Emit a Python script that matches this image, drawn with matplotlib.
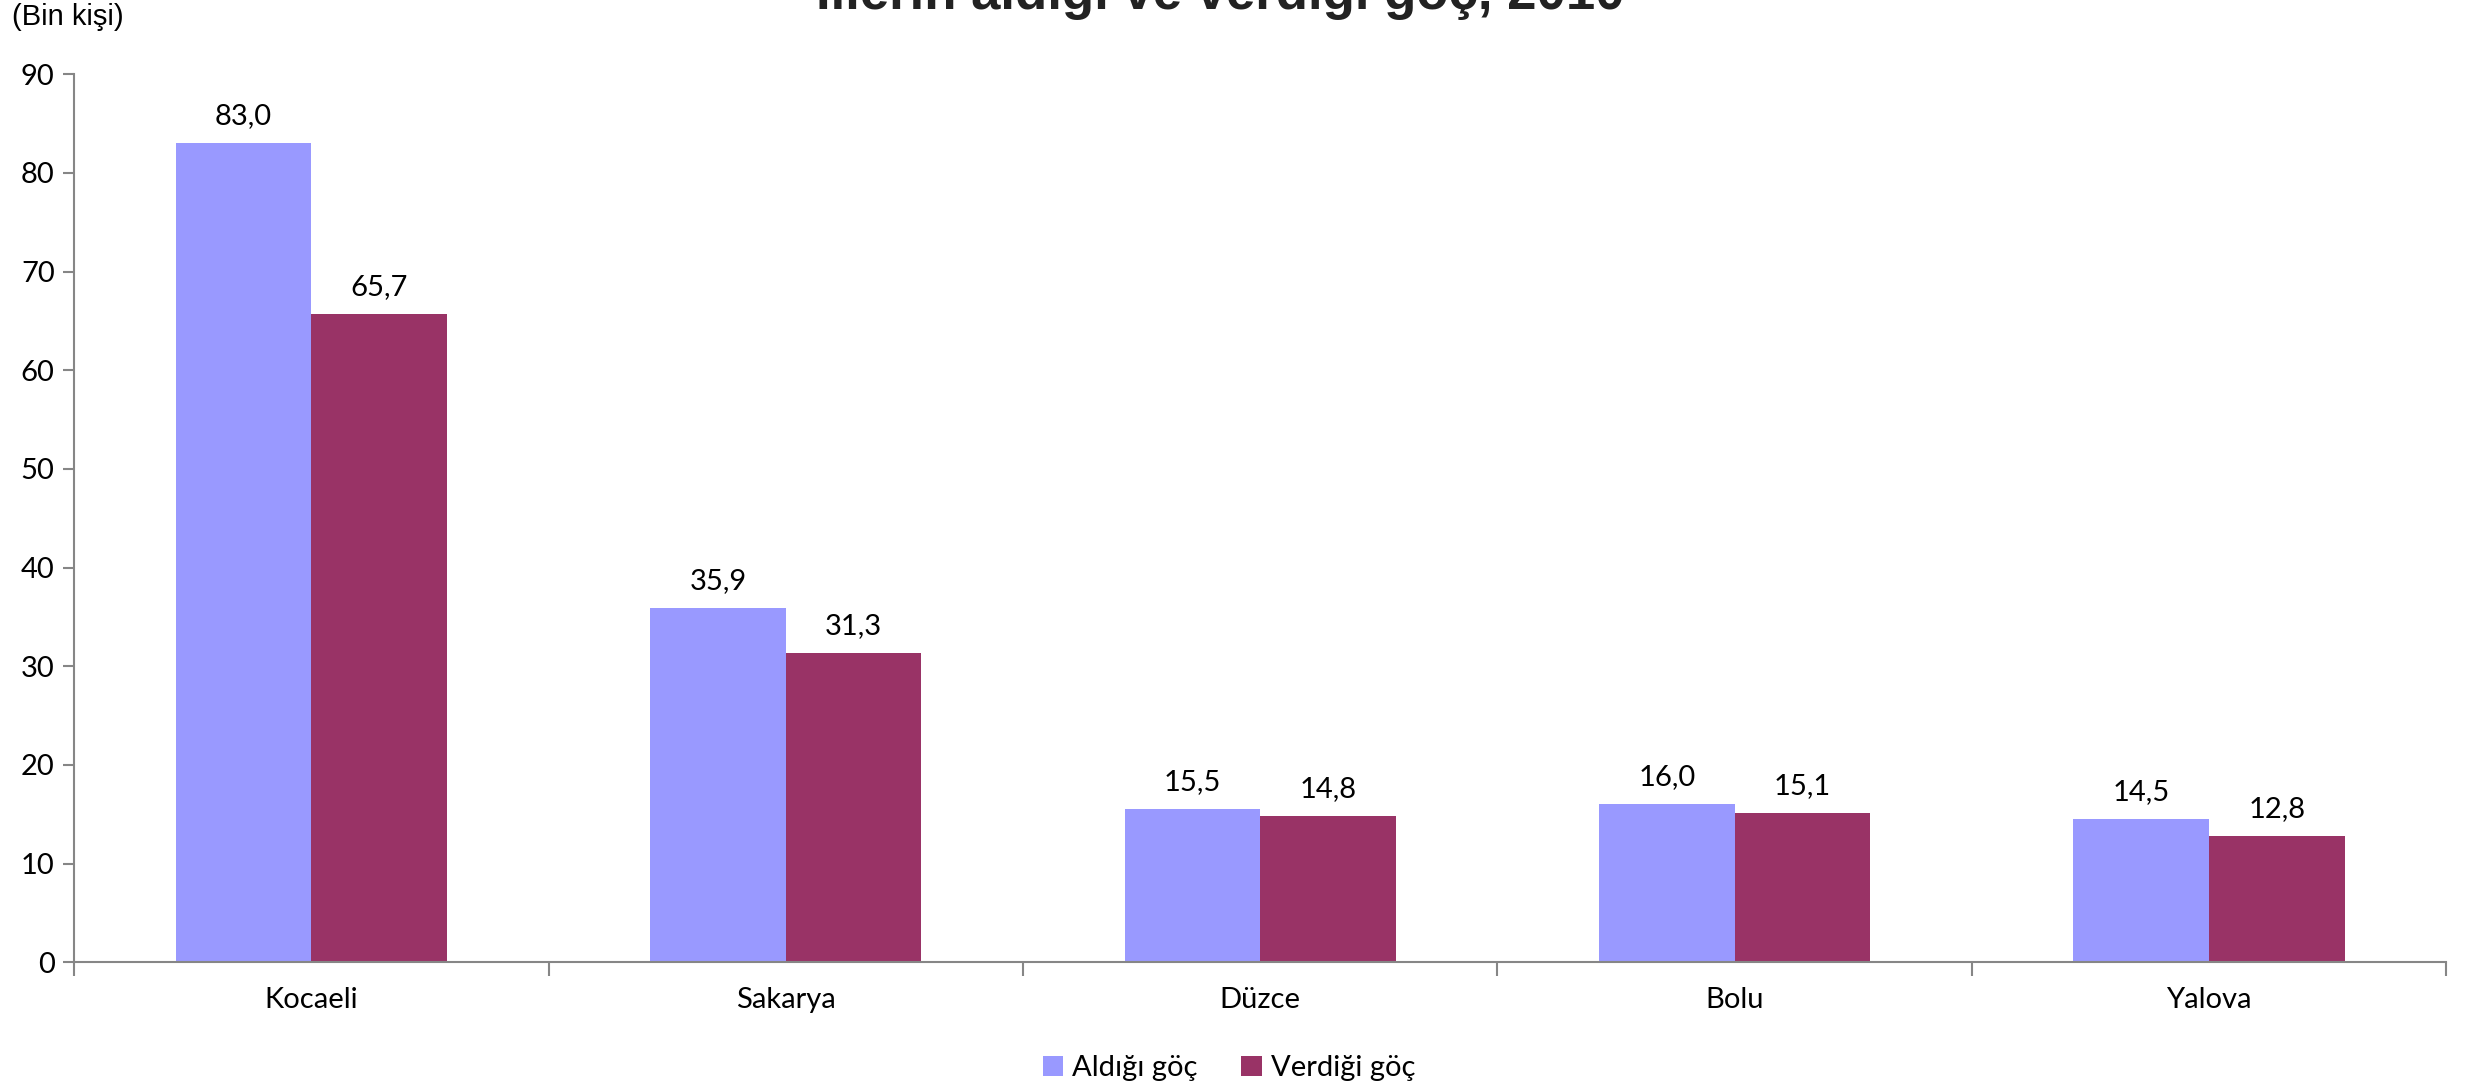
import numpy as np
import matplotlib
matplotlib.use('Agg')
import matplotlib.pyplot as plt

# veriler (bin kişi)
iller = ['Kocaeli', 'Sakarya', 'Düzce', 'Bolu', 'Yalova']
aldigi = [83.0, 35.9, 15.5, 16.0, 14.5]
verdigi = [65.7, 31.3, 14.8, 15.1, 12.8]
y_ticks = [0, 10, 20, 30, 40, 50, 60, 70, 80, 90]

mavi = '#9999FF'
mor = '#993366'
gri = '#868686'
yazi = ['Lato', 'DejaVu Sans']
fs = 21

fig = plt.figure(figsize=(24.71, 10.91), dpi=100)
ax = fig.add_axes([0.030, 0.118, 0.960, 0.814])

x = np.arange(len(iller))
w = 0.286
b1 = ax.bar(x - w / 2, aldigi, w, color=mavi, label='Aldığı göç')
b2 = ax.bar(x + w / 2, verdigi, w, color=mor, label='Verdiği göç')

for bars, vals in ((b1, aldigi), (b2, verdigi)):
    for r, v in zip(bars, vals):
        ax.annotate(f'{v:.1f}'.replace('.', ','), (r.get_x() + r.get_width() / 2, v),
                    xytext=(0, 14), textcoords='offset pixels', ha='center', va='bottom',
                    fontsize=fs, family=yazi)

ax.set_xlim(-0.5, len(iller) - 0.5)
ax.set_ylim(0, 90)
ax.set_yticks(y_ticks)
ax.set_yticklabels([str(t) for t in y_ticks], fontsize=fs, family=yazi)

# kategori sınırlarında tik, etiketler ortada
ax.set_xticks(np.arange(len(iller) + 1) - 0.5)
ax.set_xticklabels([])
ax.set_xticks(x, minor=True)
ax.set_xticklabels(iller, minor=True, fontsize=fs, family=yazi)
ax.tick_params(axis='x', which='major', length=10, width=1.5, color=gri, direction='out')
ax.tick_params(axis='x', which='minor', length=0, pad=18)
ax.tick_params(axis='y', length=8, width=1.5, color=gri, pad=6)

for s in ('top', 'right'):
    ax.spines[s].set_visible(False)
for s in ('left', 'bottom'):
    ax.spines[s].set_color(gri)
    ax.spines[s].set_linewidth(1.5)

fig.text(0.005, 1 - 17 / 1091, '(Bin kişi)', fontsize=fs, family=['Liberation Sans'],
         va='center', ha='left')
fig.text(1220 / 2471, 1 - 9 / 1091, 'İllerin aldığı ve verdiği göç, 2010', fontsize=38,
         fontweight='bold', family=['Liberation Sans'], ha='center', va='baseline', color='#222222')

leg = fig.legend(handles=[b1, b2], loc='center', bbox_to_anchor=(1229 / 2471, 1 - 1068 / 1091),
                 ncol=2, frameon=False, prop={'family': 'Lato', 'size': fs},
                 handlelength=0.7, handleheight=0.7, handletextpad=0.3, columnspacing=1.5)

fig.savefig('out.png', dpi=100)
